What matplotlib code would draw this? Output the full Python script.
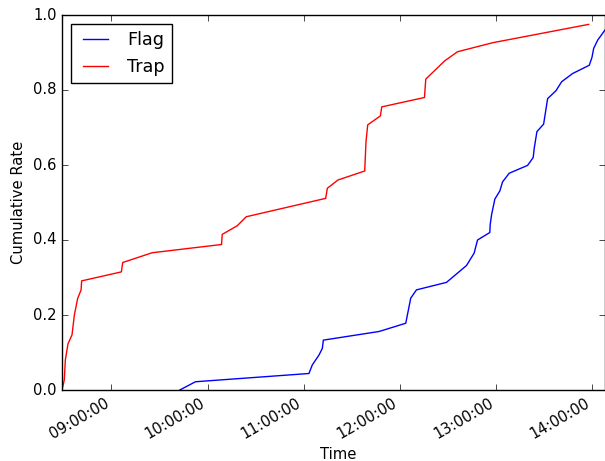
import pandas as pd
import matplotlib
matplotlib.use("Agg")
import matplotlib.pyplot as plt
import matplotlib.dates as mdates

# Flag events: time of day and cumulative rate
flag_times = ["09:42:41", "09:52:30", "11:03:19", "11:05:26", "11:09:34", "11:11:41",
              "11:12:19", "11:47:04", "12:03:45", "12:06:52", "12:10:26", "12:29:11",
              "12:41:41", "12:46:26", "12:48:34", "12:56:15", "12:56:26", "12:57:19",
              "12:59:22", "13:02:30", "13:04:11", "13:08:19", "13:19:49", "13:23:19",
              "13:23:56", "13:25:38", "13:29:49", "13:32:19", "13:37:30", "13:41:04",
              "13:47:56", "13:58:19", "14:00:00", "14:01:04", "14:03:34", "14:08:08"]
flag_rate = [0.0, 0.022, 0.044, 0.067, 0.093, 0.111,
             0.133, 0.156, 0.178, 0.245, 0.267, 0.287,
             0.332, 0.365, 0.400, 0.420, 0.440, 0.467,
             0.509, 0.531, 0.555, 0.578, 0.599, 0.620,
             0.644, 0.689, 0.709, 0.777, 0.798, 0.822,
             0.844, 0.866, 0.887, 0.911, 0.933, 0.960]

# Trap events
trap_times = ["08:29:10", "08:30:36", "08:31:15", "08:32:54", "08:35:25", "08:36:53",
              "08:38:56", "08:41:05", "08:41:26", "09:06:15", "09:07:04", "09:25:26",
              "10:08:45", "10:09:11", "10:18:34", "10:24:11", "11:13:45", "11:14:49",
              "11:21:26", "11:38:08", "11:38:56", "11:40:00", "11:47:56", "11:48:45",
              "12:15:26", "12:16:15", "12:28:08", "12:36:04", "12:57:56", "13:57:56"]
trap_rate = [0.0, 0.027, 0.080, 0.123, 0.147, 0.200,
             0.244, 0.267, 0.291, 0.315, 0.340, 0.366,
             0.388, 0.415, 0.438, 0.462, 0.511, 0.538,
             0.560, 0.584, 0.662, 0.707, 0.731, 0.755,
             0.780, 0.829, 0.878, 0.902, 0.926, 0.975]

flag_dt = pd.to_datetime(["2016-01-01 " + t for t in flag_times])
trap_dt = pd.to_datetime(["2016-01-01 " + t for t in trap_times])

plt.style.use("classic")
plt.rcParams["font.size"] = 10.6

fig = plt.figure(figsize=(6.05, 4.61), dpi=100)
ax = fig.add_axes([62 / 605, 71 / 461, 543 / 605, 375 / 461])

ax.plot(flag_dt, flag_rate, color="b", label="Flag")
ax.plot(trap_dt, trap_rate, color="r", label="Trap")

ax.set_xlim(trap_dt[0], flag_dt[-1])
ax.set_ylim(0, 1.0)
ax.xaxis.set_major_locator(mdates.HourLocator())
ax.xaxis.set_major_formatter(mdates.DateFormatter("%H:%M:%S"))
for lbl in ax.get_xticklabels():
    lbl.set_rotation(30)
    lbl.set_ha("right")

ax.set_xlabel("Time", labelpad=3.5)
ax.xaxis.label.set_x(0.508)
ax.set_ylabel("Cumulative Rate")
ax.legend(loc="upper left")

fig.savefig("out.png", dpi=100)
